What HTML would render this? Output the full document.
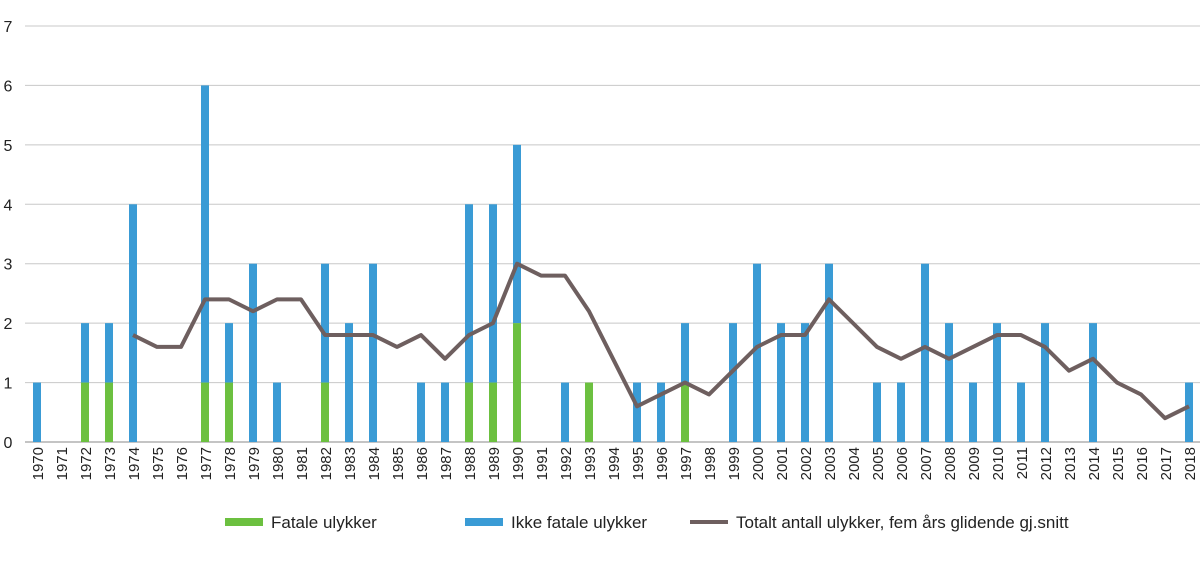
<!DOCTYPE html>
<html><head><meta charset="utf-8"><style>
body{margin:0;background:#fff;font-family:"Liberation Sans",sans-serif}
svg text{font-family:"Liberation Sans",sans-serif;fill:#222}
</style></head><body>
<svg id="c" width="1200" height="558"></svg>
<script>
const years=[];for(let y=1970;y<=2018;y++)years.push(y);
const fatal={1972:1,1973:1,1977:1,1978:1,1982:1,1988:1,1989:1,1990:2,1993:1,1997:1};
const totals={1970:1,1972:2,1973:2,1974:4,1977:6,1978:2,1979:3,1980:1,1982:3,1983:2,1984:3,1986:1,1987:1,1988:4,1989:4,1990:5,1992:1,1993:1,1995:1,1996:1,1997:2,1999:2,2000:3,2001:2,2002:2,2003:3,2005:1,2006:1,2007:3,2008:2,2009:1,2010:2,2011:1,2012:2,2014:2,2018:1};
const avgYears=[];for(let y=1974;y<=2018;y++)avgYears.push(y);
const avgVals=[1.8,1.6,1.6,2.4,2.4,2.2,2.4,2.4,1.8,1.8,1.8,1.6,1.8,1.4,1.8,2.0,3.0,2.8,2.8,2.2,1.4,0.6,0.8,1.0,0.8,1.2,1.6,1.8,1.8,2.4,2.0,1.6,1.4,1.6,1.4,1.6,1.8,1.8,1.6,1.2,1.4,1.0,0.8,0.4,0.6];
const yTicks=[0,1,2,3,4,5,6,7];
const svg=document.getElementById('c');const NS='http://www.w3.org/2000/svg';
function el(t,a,p){const e=document.createElementNS(NS,t);for(const k in a)e.setAttribute(k,a[k]);(p||svg).appendChild(e);return e;}
const X=y=>37+(y-1970)*24.0, Y=v=>442-v*59.43;
yTicks.forEach(t=>{const l=el('line',{x1:25,x2:1200,y1:Y(t),y2:Y(t),stroke:t?'#c8c8c8':'#888','stroke-width':1});

const tx=el('text',{x:8,y:Y(t)+6,'font-size':16,'text-anchor':'middle'});tx.textContent=t;
});
years.forEach(y=>{const tot=totals[y]||0,f=fatal[y]||0;
if(tot>f){const r=el('rect',{x:X(y)-4,y:Y(tot),width:8,height:Y(f)-Y(tot),fill:'#3a9bd5'});
}
if(f){const r=el('rect',{x:X(y)-4,y:Y(f),width:8,height:Y(0)-Y(f),fill:'#6cc040'});
}
const tx=el('text',{transform:`translate(${X(y)+6},${447}) rotate(-90)`,'font-size':15,'text-anchor':'end'});tx.textContent=y;
});
const p=el('polyline',{points:avgYears.map((y,i)=>X(y)+','+Y(avgVals[i])).join(' '),fill:'none',stroke:'#6e5f5f','stroke-width':4,'stroke-linejoin':'round'});

const leg=[[225,'#6cc040','Fatale ulykker',0],[465,'#3a9bd5','Ikke fatale ulykker',0],[690,'#6e5f5f','Totalt antall ulykker, fem års glidende gj.snitt',1]];
leg.forEach(([x,c,t,isLine],i)=>{const g=el('g',{});
if(isLine)el('line',{x1:x,x2:x+38,y1:522,y2:522,stroke:c,'stroke-width':4},g);else el('rect',{x:x,y:518,width:38,height:8,fill:c},g);
const tx=el('text',{x:x+46,y:528,'font-size':17},g);tx.textContent=t;});
</script></body></html>
